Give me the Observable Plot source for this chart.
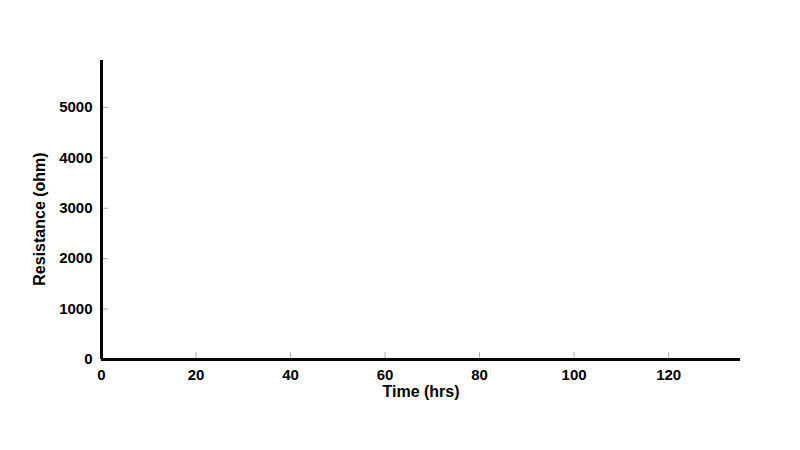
<!DOCTYPE html>
<html>
<head>
<meta charset="utf-8">
<script src="https://cdn.jsdelivr.net/npm/d3@7"></script>
<script src="https://cdn.jsdelivr.net/npm/@observablehq/plot@0.6"></script>
<style>
  html, body { margin: 0; padding: 0; background: #fff; }
  #chart svg { display: block; }
</style>
</head>
<body>
<div id="chart"></div>
<script>
const xTicks = [0, 20, 40, 60, 80, 100, 120];
const yTicks = [0, 1000, 2000, 3000, 4000, 5000];
const xDomain = [0, 135.2];
const yDomain = [0, 5930];
const xLabel = "Time (hrs)";
const yLabel = "Resistance (ohm)";

const W = 800, H = 450;
const mL = 101, mR = 60, mT = 60, mB = 91;
const plotW = W - mL - mR, plotH = H - mT - mB;
const font = "'Liberation Sans', Arial, Helvetica, sans-serif";

const chart = Plot.plot({
  width: W,
  height: H,
  marginLeft: mL,
  marginRight: mR,
  marginTop: mT,
  marginBottom: mB,
  style: { fontFamily: font, fontWeight: "bold", background: "#fff", color: "#000" },
  x: { domain: xDomain },
  y: { domain: yDomain },
  marks: [
    // inward grey tick marks
    Plot.tickX(xTicks.filter(d => d > 0), { x: d => d, stroke: "#aaa", strokeWidth: 1, insetTop: plotH - 7 }),
    Plot.tickY(yTicks.filter(d => d > 0), { y: d => d, stroke: "#aaa", strokeWidth: 1, insetRight: plotW - 7 }),
    Plot.axisX({ ticks: xTicks, tickSize: 0, tickPadding: 10, fontSize: 15, fontWeight: "bold", label: null }),
    Plot.axisY({ ticks: yTicks, tickSize: 0, tickPadding: 9, fontSize: 15, fontWeight: "bold", label: null, tickFormat: d => String(d) }),
    Plot.ruleY([0], { stroke: "#000", strokeWidth: 3 }),
    Plot.ruleX([0], { stroke: "#000", strokeWidth: 3 }),
    Plot.text([xLabel], { text: d => d, frameAnchor: "bottom", textAnchor: "middle", lineAnchor: "middle", dy: 32, fontSize: 16, fontWeight: "bold", fill: "#000" }),
    Plot.text([yLabel], { text: d => d, frameAnchor: "left", textAnchor: "middle", lineAnchor: "middle", rotate: -90, dx: -62, dy: 9, fontSize: 16, fontWeight: "bold", fill: "#000" })
  ]
});
document.getElementById("chart").append(chart);
</script>
</body>
</html>
